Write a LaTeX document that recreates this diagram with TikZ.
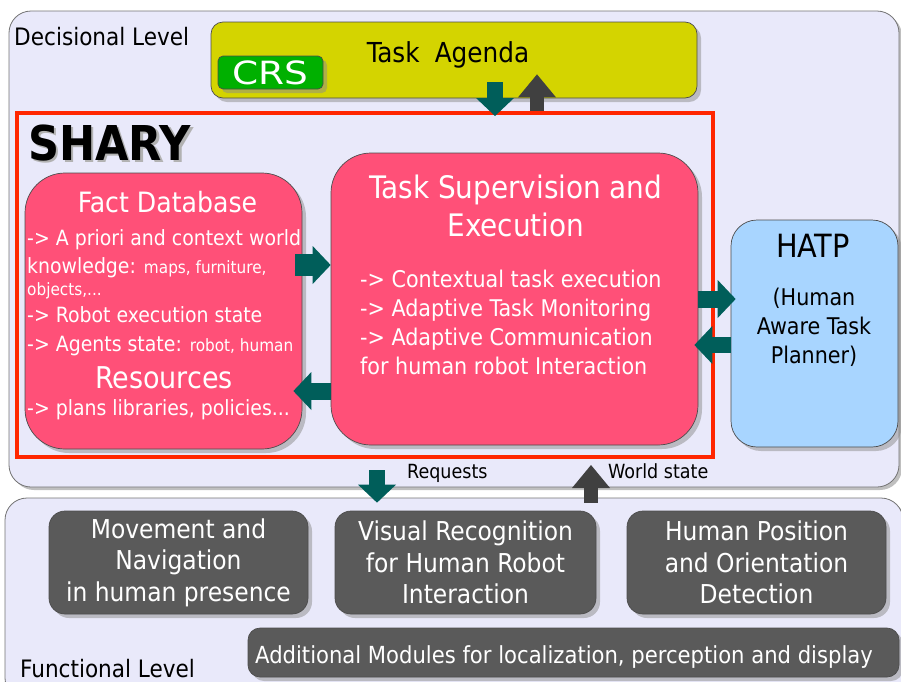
\documentclass[tikz,border=0pt]{standalone}
\usepackage{fontspec}
\setmainfont{DejaVu Sans Condensed}
\usetikzlibrary{arrows.meta,shadows,calc}
\definecolor{panelbg}{HTML}{E9E9FA}
\definecolor{agendacol}{HTML}{D4D400}
\definecolor{crscol}{HTML}{00B000}
\definecolor{sharyred}{HTML}{FF2600}
\definecolor{sharypink}{HTML}{FF5078}
\definecolor{hatpblue}{HTML}{A8D5FF}
\definecolor{modgray}{HTML}{5A5A5A}
\definecolor{arrteal}{HTML}{005E5A}
\definecolor{arrgray}{HTML}{404040}

\begin{document}
\begin{tikzpicture}[x=1pt, y=-1pt,
  panel/.style={draw=black!55, fill=panelbg, line width=0.8pt, rounded corners=22pt,
    drop shadow={shadow xshift=3pt, shadow yshift=-3pt, fill=black!50}},
  block/.style={draw=black!70, line width=0.7pt, inner sep=0pt, rounded corners=#1,
    drop shadow={shadow xshift=4pt, shadow yshift=-4pt, fill=black!45}},
  pinkbox/.style={block=40pt, fill=sharypink},
  darkbox/.style={block=16pt, fill=modgray, text=white, align=center,
    minimum width=259pt, minimum height=103pt, font=\fontsize{26}{31.5}\selectfont},
  plain/.style={anchor=base west, inner sep=0pt, font=\fontsize{#1}{#1}\selectfont},
  bigbold/.style={anchor=base west, inner sep=0pt, font=\fontsize{48}{48}\selectfont\bfseries},
  facttxt/.style={plain=21, text=white},
  tealarr/.style={draw=arrteal, line width=#1,
    -{Triangle[length=18pt, width=38pt, line width=0pt]}},
  grayarr/.style={draw=arrgray, line width=#1,
    -{Triangle[length=23pt, width=38pt, line width=0pt]}}]
\useasboundingbox (0,0) rectangle (901,681);
\draw [panel] (9,11) rectangle (899,487);
\draw [panel] (5,498) rectangle (903,700);
\node [plain=24] (declabel) at (14,45) {Decisional Level};
\node [plain=24] (funclabel) at (20,677) {Functional Level};
\node [block=12pt, fill=agendacol, minimum width=486pt, minimum height=76pt] (agenda) at (454,60) {};
\node [plain=27.5, anchor=base] (agendatext) at (448,62) {Task\hspace{0.55em}Agenda};
\node [block=5pt, fill=crscol, text=white, minimum width=105pt, minimum height=33pt,
  font=\fontsize{32}{32}\selectfont] (crs) at (270.5,72.5) {\scalebox{1.3}[1]{CRS}};
\node [draw=sharyred, line width=4pt, minimum width=696pt, minimum height=344pt, inner sep=0pt] (shary) at (365,285) {};
\node [bigbold, text=black!30] (sharyshade) at (30.5,162.5) {SHARY};
\node [bigbold] (sharytitle) at (28,160) {SHARY};
\node [pinkbox, minimum width=277pt, minimum height=276pt] (fact) at (163.5,311) {};
\node [facttxt, plain=28, anchor=base] (facttitle) at (167.5,212) {Fact Database};
\node [facttxt] (fact1) at (27,245) {-> A priori and context world};
\node [facttxt] (fact2) at (27,273) {knowledge: {\fontsize{17}{17}\selectfont maps, furniture,}};
\node [facttxt, plain=17] (fact3) at (27,295) {objects,...};
\node [facttxt] (fact4) at (27,322) {-> Robot execution state};
\node [facttxt] (fact5) at (27,351) {-> Agents state: {\fontsize{17}{17}\selectfont robot, human}};
\node [facttxt, plain=30, anchor=base] (restitle) at (164,388) {Resources};
\node [facttxt] (fact6) at (27,415) {-> plans libraries, policies...};
\node [pinkbox, minimum width=367pt, minimum height=292pt] (task) at (514.5,299) {};
\node [anchor=north, inner sep=0pt, text=white, align=center, font=\fontsize{31}{38}\selectfont] (tasktitle) at (516,174.4) {Task Supervision and\\Execution};
\node [anchor=north west, inner sep=0pt, text=white, align=left, font=\fontsize{23}{29}\selectfont] (taskbody) at (360,269.5)
  {-> Contextual task execution\\-> Adaptive Task Monitoring\\-> Adaptive Communication\\for human robot Interaction};
\node [block=26pt, fill=hatpblue, minimum width=167pt, minimum height=227pt] (hatp) at (814.5,333.5) {};
\node [plain=32, anchor=base] (hatptitle) at (813,257) {HATP};
\node [anchor=north, inner sep=0pt, align=center, font=\fontsize{23}{29}\selectfont] (hatpsub) at (814,287.5) {(Human\\Aware Task\\Planner)};
\node [darkbox] (move) at (178.5,562.5) {Movement and\\Navigation\\in human presence};
\node [darkbox, minimum width=261pt] (visual) at (465.5,562.5) {Visual Recognition\\for Human Robot\\Interaction};
\node [darkbox] (human) at (756.5,562.5) {Human Position\\and Orientation\\Detection};
\node [block=12pt, fill=modgray, minimum width=651pt, minimum height=49pt] (addmod) at (573.5,652.5) {};
\node [plain=23.5, text=white] (addtext) at (255,663) {Additional Modules for localization, perception and display};
\draw [tealarr=16pt] ($(agenda.south -| 495,0)+(0,-16)$) -- ($(shary.north -| 495,0)+(0,5)$);
\draw [grayarr=14pt] (shary.north -| 537,0) -- ($(agenda.south -| 537,0)+(0,-24)$);
\draw [tealarr=22pt] ($(fact.east |- 0,265)+(-7,0)$) -- (task.west |- 0,265);
\draw [tealarr=17pt] (task.west |- 0,391) -- ($(fact.east |- 0,391)+(-9,0)$);
\draw [tealarr=17pt] (task.east |- 0,299) -- ($(hatp.west |- 0,299)+(5,0)$);
\draw [tealarr=16pt] (hatp.west |- 0,345) -- ($(task.east |- 0,345)+(-4,0)$);
\draw [tealarr=16pt] ($(shary.south -| 377,0)+(0,11)$) -- ($(visual.north -| 377,0)+(0,-8)$);
\draw [grayarr=14pt] ($(visual.north -| 591,0)+(0,-8)$) -- ($(shary.south -| 591,0)+(0,6)$);
\node [plain=19.5] (reqlabel) at (407,478) {Requests};
\node [plain=19.5] (wslabel) at (608,478) {World state};
\end{tikzpicture}
\end{document}
